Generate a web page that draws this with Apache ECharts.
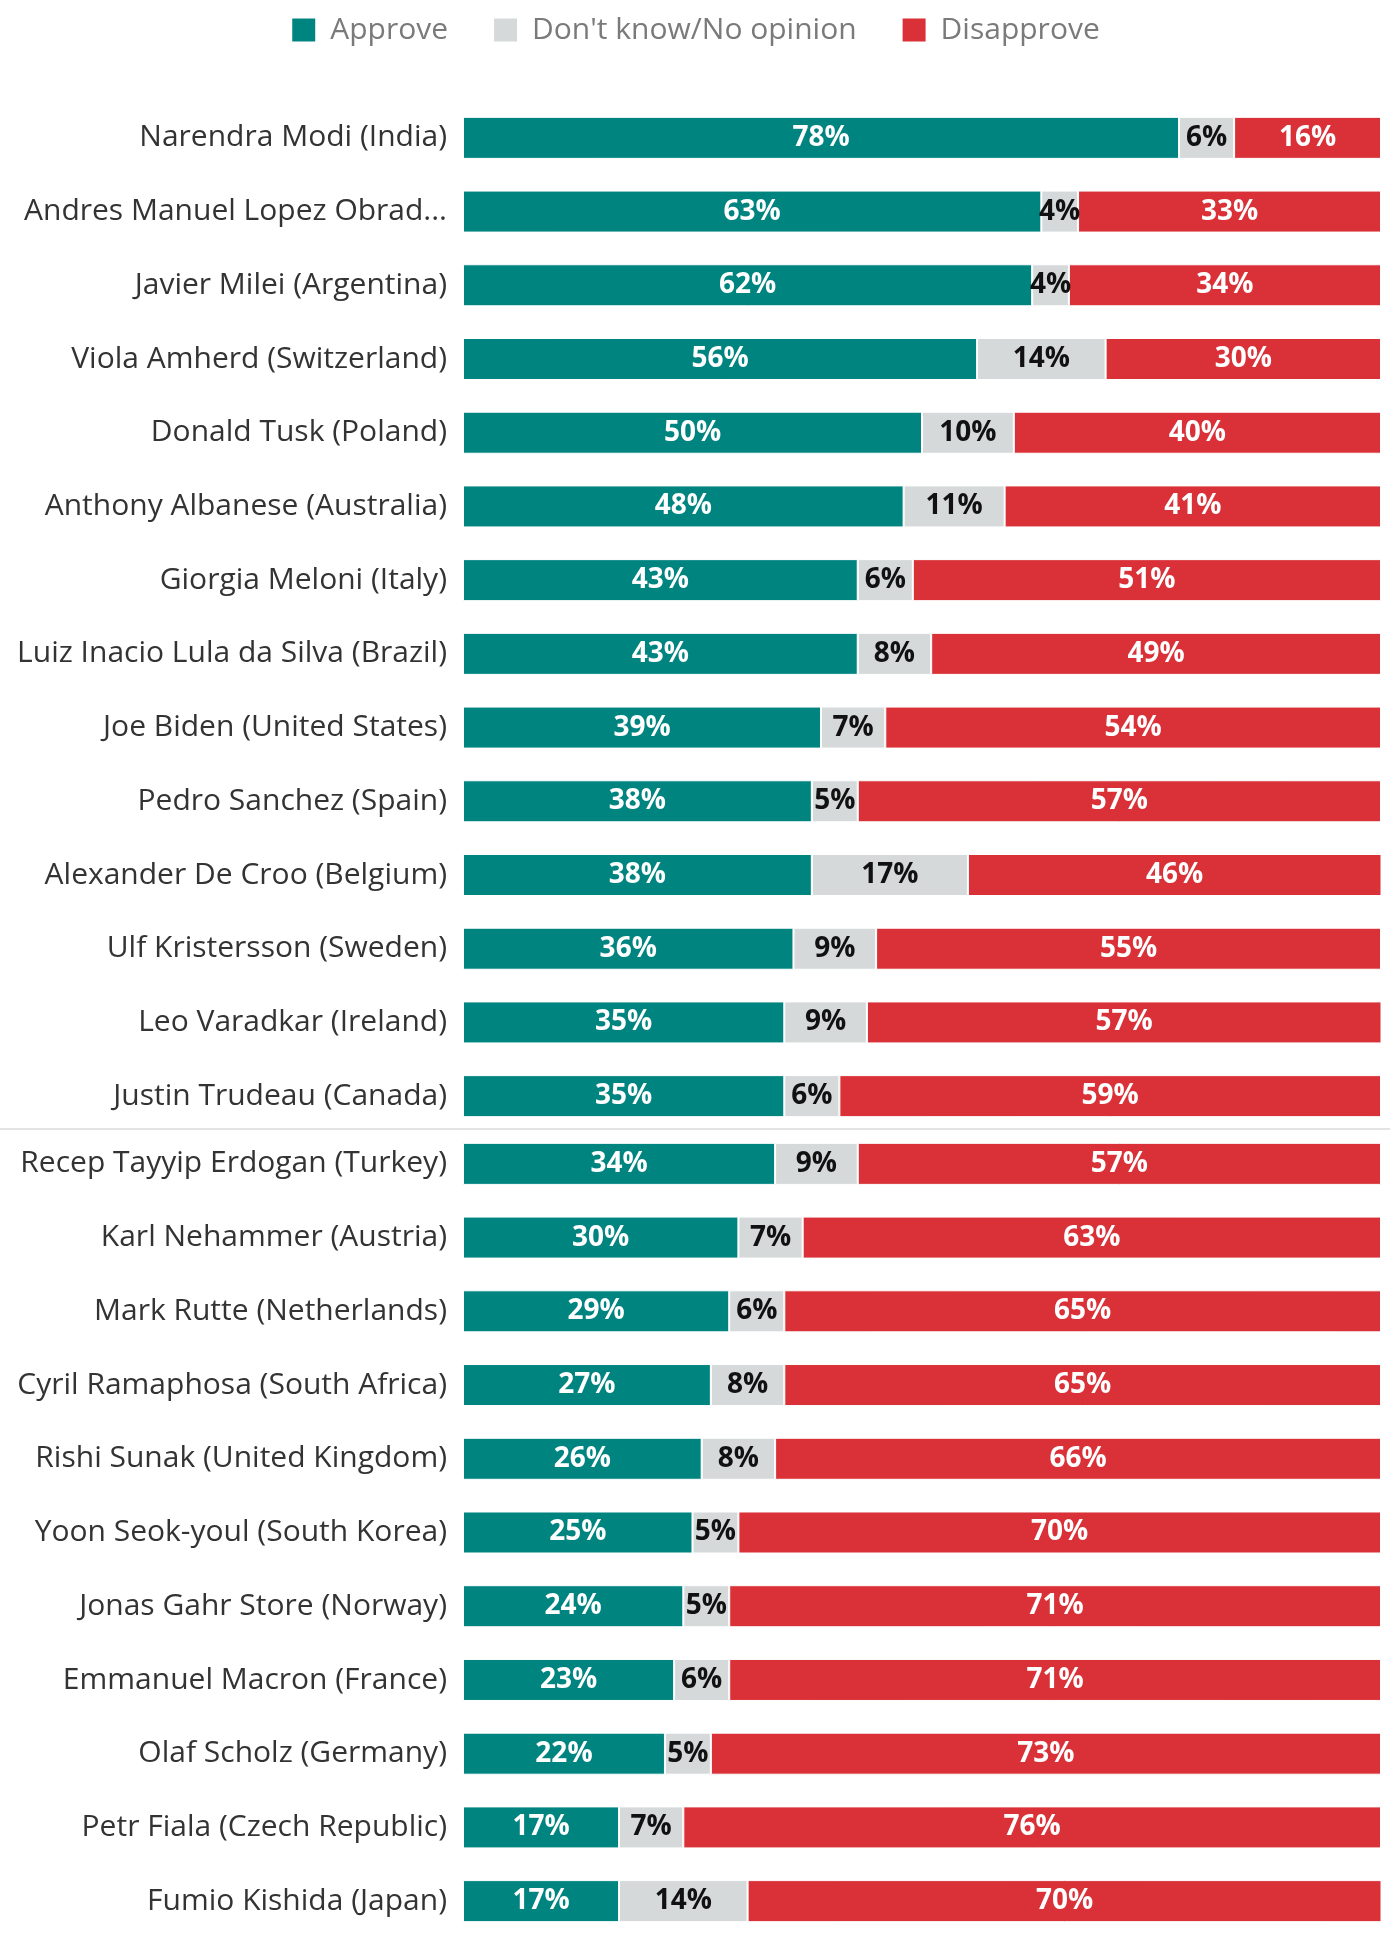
<!DOCTYPE html>
<html><head><meta charset="utf-8">
<script src="https://cdn.jsdelivr.net/npm/echarts@6/dist/echarts.min.js"></script>
<style>html,body{margin:0;padding:0;background:#fff}#c{width:1390px;height:1948px}</style>
</head><body><div id="c"></div>
<script>
const leaders = [
  "Narendra Modi (India)", "Andres Manuel Lopez Obrad...", "Javier Milei (Argentina)",
  "Viola Amherd (Switzerland)", "Donald Tusk (Poland)", "Anthony Albanese (Australia)",
  "Giorgia Meloni (Italy)", "Luiz Inacio Lula da Silva (Brazil)", "Joe Biden (United States)",
  "Pedro Sanchez (Spain)", "Alexander De Croo (Belgium)", "Ulf Kristersson (Sweden)",
  "Leo Varadkar (Ireland)", "Justin Trudeau (Canada)",
  "Recep Tayyip Erdogan (Turkey)", "Karl Nehammer (Austria)", "Mark Rutte (Netherlands)",
  "Cyril Ramaphosa (South Africa)", "Rishi Sunak (United Kingdom)", "Yoon Seok-youl (South Korea)",
  "Jonas Gahr Store (Norway)", "Emmanuel Macron (France)", "Olaf Scholz (Germany)",
  "Petr Fiala (Czech Republic)", "Fumio Kishida (Japan)"
];
const approve    = [78,63,62,56,50,48,43,43,39,38,38,36,35,35, 34,30,29,27,26,25,24,23,22,17,17];
const dontKnow   = [ 6, 4, 4,14,10,11, 6, 8, 7, 5,17, 9, 9, 6,  9, 7, 6, 8, 8, 5, 5, 6, 5, 7,14];
const disapprove = [16,33,34,30,40,41,51,49,54,57,46,55,57,59, 57,63,65,65,66,70,71,71,73,76,70];
const seriesNames = ["Approve", "Don't know/No opinion", "Disapprove"];
const splitAt = 14;

const colors = ["#008480", "#d5d9da", "#d93137"];
const labelColors = ["#ffffff", "#111111", "#ffffff"];
const FONT = "Open Sans";

const chart = echarts.init(document.getElementById('c'), null, {renderer: 'canvas'});
const grids = [
  {left: 463, right: 9, top: 101, height: 1032},
  {left: 463, right: 9, top: 1127, height: 811}
];
const parts = [[0, splitAt], [splitAt, leaders.length]];
const xAxes = [], yAxes = [], series = [];
parts.forEach((p, gi) => {
  xAxes.push({type: 'value', gridIndex: gi, min: 0, max: 100, show: false});
  yAxes.push({
    type: 'category', gridIndex: gi, inverse: true,
    data: leaders.slice(p[0], p[1]),
    axisLine: {show: false}, axisTick: {show: false}, splitLine: {show: false},
    axisLabel: {color: '#333333', fontSize: 30, fontFamily: FONT, margin: 16}
  });
  [approve, dontKnow, disapprove].forEach((arr, si) => {
    series.push({
      type: 'bar', name: seriesNames[si], stack: 'g' + gi,
      xAxisIndex: gi, yAxisIndex: gi,
      data: arr.slice(p[0], p[1]),
      barWidth: '57%',
      itemStyle: {color: colors[si], borderColor: '#ffffff', borderWidth: 1},
      label: {
        show: true, position: 'inside', formatter: '{c}%',
        color: labelColors[si], fontSize: 28, fontWeight: 'bold', fontFamily: FONT
      },
      emphasis: {disabled: true}
    });
  });
});

chart.setOption({
  animation: false,
  backgroundColor: '#ffffff',
  color: colors,
  legend: {
    top: 10, left: 'center', icon: 'rect', itemWidth: 25, itemHeight: 25, itemGap: 44,
    data: seriesNames,
    textStyle: {color: '#7a7a7a', fontSize: 30, fontFamily: FONT, padding: [0, 0, 0, 9]},
    selectedMode: false
  },
  grid: grids,
  xAxis: xAxes,
  yAxis: yAxes,
  series: series,
  graphic: [{
    type: 'line', silent: true,
    shape: {x1: 0, y1: 1129, x2: 1390, y2: 1129},
    style: {stroke: '#e3e3e3', lineWidth: 2}
  }]
});
</script></body></html>
